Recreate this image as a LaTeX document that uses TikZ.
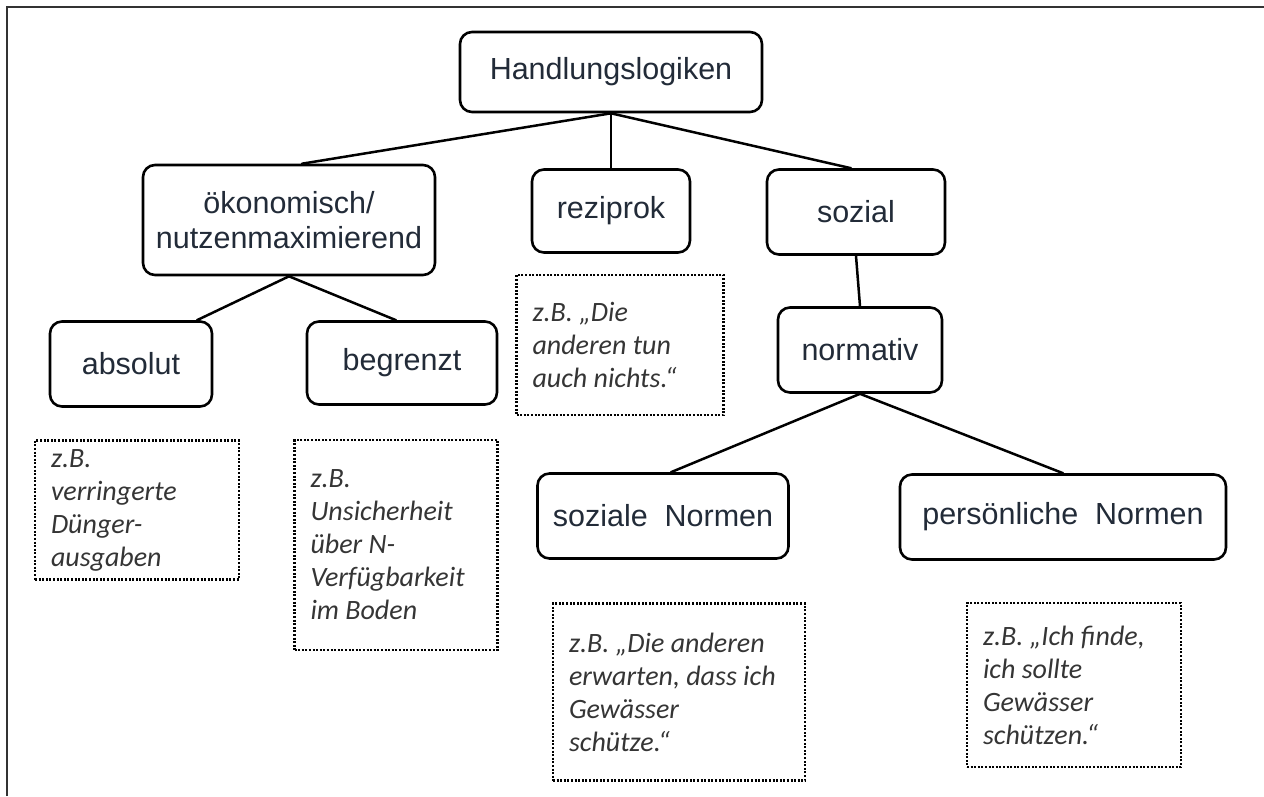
\documentclass[tikz,border=0pt]{standalone}
\usepackage{fontspec}
\setmainfont{Liberation Sans}
\newfontfamily\notefont{Carlito}
\usepackage{tikz}
\usetikzlibrary{positioning}
\definecolor{labelgray}{HTML}{222B38}
\definecolor{notegray}{HTML}{353535}
\tikzstyle{logik}=[draw,rounded corners=12pt,line width=2.6pt,align=center,text=labelgray,inner sep=0pt,font=\fontsize{30.5}{35}\selectfont]
\tikzstyle{beispiel}=[draw,line width=2.2pt,dash pattern=on 2pt off 1.6pt,align=flush left,text=notegray,inner xsep=16pt,inner ysep=0pt,font=\notefont\itshape\fontsize{28}{33}\selectfont]
\tikzstyle{verbinder}=[line width=2.5pt,line cap=round]

\begin{document}
\begin{tikzpicture}[x=1pt,y=-1pt]
    \useasboundingbox (0,0) rectangle (1264,796);
    \draw[line width=2.4pt,black!80] (7,796) -- (7,7) -- (1264,7);
    % Ebene 1
    \node [logik,minimum width=302pt,minimum height=80pt] (hand) at (611,72) {Handlungslogiken};
    % Ebene 2
    \node [logik,minimum width=292pt,minimum height=110pt] (oek) at (289,220) {ökonomisch/\\nutzenmaximierend};
    \node [logik,minimum width=158pt,minimum height=83pt] (rez) at (611,211) {reziprok};
    \node [logik,minimum width=178pt,minimum height=85pt] (soz) at (856,212) {sozial};
    % Ebene 3
    \node [logik,minimum width=162pt,minimum height=85pt] (abs) at (131,364) {absolut};
    \node [logik,minimum width=190pt,minimum height=83pt] (beg) at (402,363) {begrenzt};
    \node [logik,minimum width=164pt,minimum height=85pt] (norm) at (860,350) {normativ};
    % Ebene 4
    \node [logik,minimum width=251pt,minimum height=85pt] (sozN) at (663,516) {soziale\ \ Normen};
    \node [logik,minimum width=326pt,minimum height=85pt] (persN) at (1063,517) {persönliche\ \ Normen};
    % Beispiele
    \node [beispiel,text width=175pt,minimum height=140pt] (nrez) at (620,345) {z.B. „Die\\anderen tun\\auch nichts.“};
    \node [beispiel,text width=172pt,minimum height=139pt] (nabs) at (137,510) {z.B.\\verringerte\\Dünger-\\ausgaben};
    \node [beispiel,text width=171pt,minimum height=210pt] (nbeg) at (396,545) {z.B.\\Unsicherheit\\über N-\\Verfügbarkeit\\im Boden};
    \node [beispiel,text width=220pt,minimum height=177pt] (nsozN) at (679,692) {z.B. „Die anderen\\erwarten, dass ich\\Gewässer\\schütze.“};
    \node [beispiel,text width=182pt,minimum height=164pt] (npersN) at (1074,685) {z.B. „Ich finde,\\ich sollte\\Gewässer\\schützen.“};
    % Verbindungen
    \draw [verbinder] (hand.south) -- ([xshift=13pt]oek.north);
    \draw [verbinder] (hand.south) -- (rez.north);
    \draw [verbinder] (hand.south) -- ([xshift=-5pt]soz.north);
    \draw [verbinder] (oek.south) -- ([xshift=66pt]abs.north);
    \draw [verbinder] (oek.south) -- ([xshift=-6pt]beg.north);
    \draw [verbinder] (soz.south) -- (norm.north);
    \draw [verbinder] (norm.south) -- ([xshift=8pt]sozN.north);
    \draw [verbinder] (norm.south) -- (persN.north);
\end{tikzpicture}
\end{document}
